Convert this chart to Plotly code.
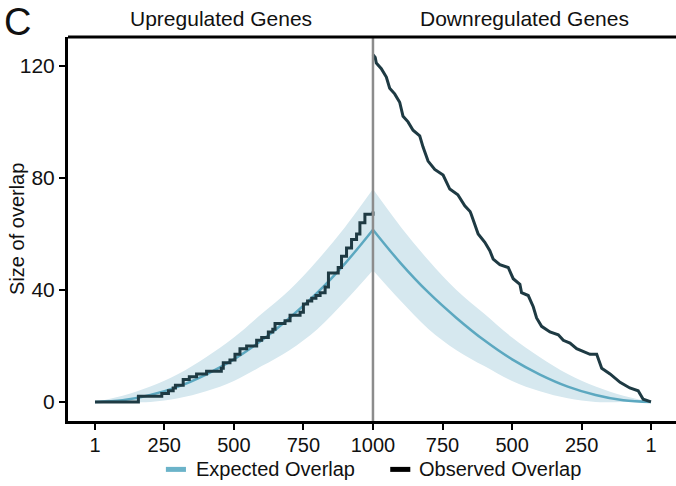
import plotly.graph_objects as go

# ---------------- data ----------------
# expected overlap and its band, on a grid of ranks
rank_grid = [1, 100, 200, 300, 400, 500, 600, 700, 800, 900, 1000]
exp_up = [0, 0.6, 2.5, 5.5, 9.8, 15.2, 22, 30, 39, 49.5, 61.5]
upper_up = [0, 2.2, 5.5, 10, 16, 23, 31.5, 40, 50.5, 62.5, 76]
lower_up = [0, 0, 0, 1.3, 3.8, 7.5, 12.8, 18.5, 26, 36, 47]
exp_down = [0, 0.6, 2.5, 5.5, 9.8, 15.2, 22, 30, 39, 49.5, 61.5]
upper_down = [0, 2.2, 5.5, 10, 16, 23, 31.5, 40, 50.5, 62.5, 76]
lower_down = [0, 0, 0, 1.3, 3.8, 7.5, 12.8, 18.5, 26, 36, 47]

# observed overlap, upregulated genes (rank ascending)
obs_up_rank = [1, 157, 241, 265, 282, 290, 318, 340, 366, 402, 440, 455, 462,
               486, 504, 522, 546, 582, 600, 624, 640, 648, 684, 702, 738, 750,
               765, 780, 795, 810, 828, 840, 875, 887, 905, 923, 941, 953, 971,
               1000]
obs_up_val = [0, 2, 3, 4, 5, 6, 8, 9, 10, 11, 11, 12, 14,
              15, 17, 19, 20, 22, 23, 25, 26, 28, 29, 31, 32, 35,
              36, 37, 38, 39, 41, 46, 48, 52, 55, 58, 60, 64, 67,
              68]

# observed overlap, downregulated genes (rank descending)
obs_down_rank = [1000, 992, 988, 970, 952, 940, 922, 904, 892, 874, 856, 832,
                 820, 802, 778, 748, 724, 695, 670, 651, 647, 633, 622, 598,
                 580, 568, 544, 514, 496, 472, 466, 442, 424, 412, 394, 364,
                 334, 316, 292, 268, 220, 196, 178, 148, 112, 77, 47, 29, 5, 1]
obs_down_val = [124, 123, 121, 119, 116, 112, 110, 107, 102, 100, 97, 95,
                91, 86, 83, 81, 76, 74, 70, 68, 67, 63, 60, 57,
                54, 51, 49, 48, 44, 42, 39, 38, 34, 30, 27, 25,
                24, 22, 21, 19, 17, 17, 12, 10, 7, 5, 4, 1, 0, 0]

x_tickvals = [1, 250, 500, 750, 1000, 1250, 1500, 1750, 1999]
x_ticktext = ["1", "250", "500", "750", "1000", "750", "500", "250", "1"]
y_tickvals = [0, 40, 80, 120]

panel_titles = ["Upregulated Genes", "Downregulated Genes"]
legend_names = ["Expected Overlap", "Observed Overlap"]

# ---------------- styling ----------------
FONT = "Liberation Sans, Arial, Helvetica, sans-serif"
C_EXP = "#5CA8C0"
C_BAND = "#D6E8EF"
C_OBS = "#1E3A43"
C_LEG = ["#6BB3C9", "#000000"]

N = 2000  # downregulated ranks are mirrored: position = N - rank


def mirror(ranks):
    return [N - r for r in ranks]


fig = go.Figure()

# bands
for xs, up, lo in [(rank_grid, upper_up, lower_up),
                   (mirror(rank_grid), upper_down, lower_down)]:
    fig.add_trace(go.Scatter(x=xs, y=up, mode="lines",
                             line=dict(width=0, color=C_BAND, shape="spline"),
                             showlegend=False, hoverinfo="skip"))
    fig.add_trace(go.Scatter(x=xs, y=lo, mode="lines", fill="tonexty",
                             fillcolor=C_BAND,
                             line=dict(width=0, color=C_BAND, shape="spline"),
                             showlegend=False, hoverinfo="skip"))

# expected lines
for xs, ys in [(rank_grid, exp_up), (mirror(rank_grid), exp_down)]:
    fig.add_trace(go.Scatter(x=xs, y=ys, mode="lines", name=legend_names[0],
                             line=dict(color=C_EXP, width=2.5, shape="spline"),
                             showlegend=False))

# observed lines
fig.add_trace(go.Scatter(x=obs_up_rank, y=obs_up_val, mode="lines",
                         name=legend_names[1],
                         line=dict(color=C_OBS, width=3, shape="hv"),
                         showlegend=False))
fig.add_trace(go.Scatter(x=mirror(obs_down_rank), y=obs_down_val, mode="lines",
                         name=legend_names[1],
                         line=dict(color=C_OBS, width=3, shape="linear"),
                         showlegend=False))

# legend drawn below the axis (swatches + labels, paper coordinates)
LEG_Y = -0.126
leg_swatch_x = [(0.161, 0.194), (0.530, 0.563)]
leg_text_x = [0.207, 0.574]
legend_shapes = [
    dict(type="line", xref="paper", yref="paper", x0=a, x1=b, y0=LEG_Y, y1=LEG_Y,
         line=dict(color=c, width=5))
    for (a, b), c in zip(leg_swatch_x, C_LEG)
]
legend_annots = [
    dict(text=t, xref="paper", yref="paper", x=x, y=LEG_Y, xanchor="left",
         yanchor="middle", showarrow=False, font=dict(size=20))
    for t, x in zip(legend_names, leg_text_x)
]

fig.update_layout(
    width=676, height=486,
    margin=dict(l=68, r=0, t=37, b=65),
    paper_bgcolor="white", plot_bgcolor="white",
    font=dict(family=FONT, size=21, color="#111111"),
    showlegend=False,
    xaxis=dict(range=[-96, 2089], tickvals=x_tickvals, ticktext=x_ticktext,
               showline=True, linecolor="black", linewidth=3,
               ticks="outside", ticklen=6, tickwidth=2, tickcolor="black",
               ticklabelstandoff=-2,
               showgrid=False, zeroline=False,
               tickfont=dict(size=20)),
    yaxis=dict(range=[-6.8, 130.3], tickvals=y_tickvals,
               showline=True, linecolor="black", linewidth=3,
               ticks="outside", ticklen=6, tickwidth=2, tickcolor="black",
               showgrid=False, zeroline=False,
               tickfont=dict(size=21)),
    shapes=[
        dict(type="line", xref="x", yref="paper", x0=1000, x1=1000, y0=0, y1=1,
             line=dict(color="#8C8C8C", width=2.5)),
        dict(type="line", xref="paper", yref="paper", x0=0, x1=1, y0=1, y1=1,
             line=dict(color="black", width=3)),
    ] + legend_shapes,
    annotations=[
        dict(text=panel_titles[0], xref="paper", yref="paper", x=0.251, y=1.048,
             xanchor="center", yanchor="middle", showarrow=False,
             font=dict(size=21)),
        dict(text=panel_titles[1], xref="paper", yref="paper", x=0.751, y=1.048,
             xanchor="center", yanchor="middle", showarrow=False,
             font=dict(size=21)),
        dict(text="Size of overlap", xref="paper", yref="paper",
             x=-0.084, y=0.5, xanchor="center", yanchor="middle",
             textangle=-90, showarrow=False, font=dict(size=20)),
        dict(text="C", xref="paper", yref="paper", x=-0.109, y=1.098,
             xanchor="left", yanchor="top", showarrow=False,
             font=dict(size=38)),
    ] + legend_annots,
)

fig.write_html("out.html")
